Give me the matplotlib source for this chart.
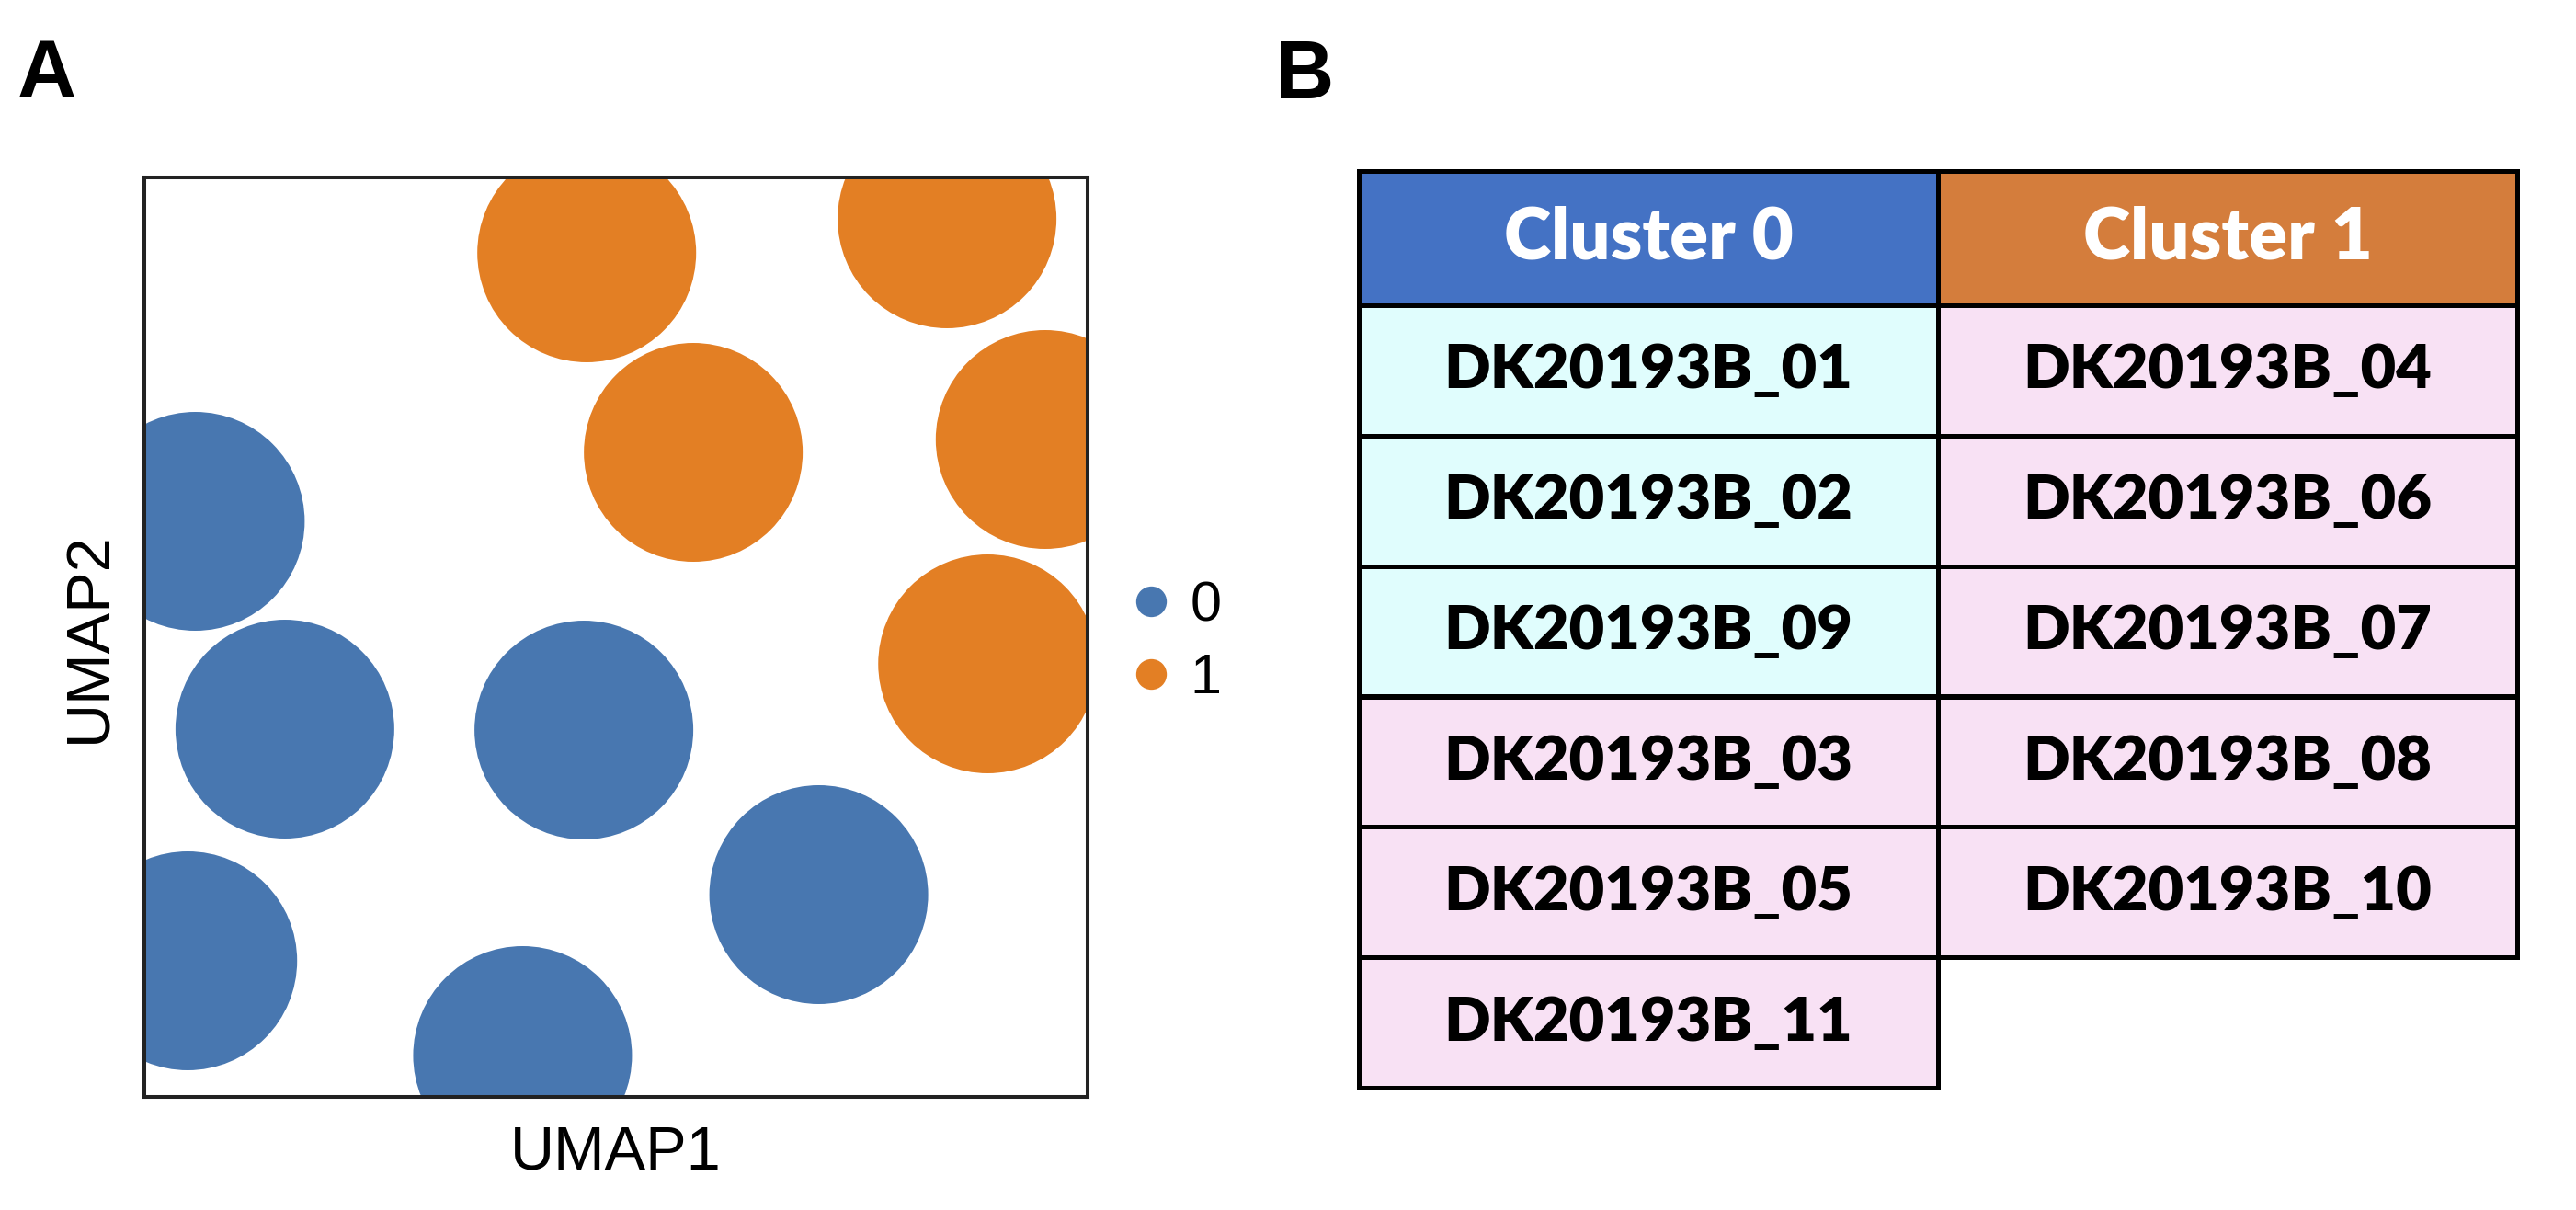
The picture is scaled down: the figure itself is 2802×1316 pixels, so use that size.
import matplotlib
matplotlib.use("Agg")
import matplotlib.pyplot as plt
from matplotlib.lines import Line2D
from matplotlib.patches import Rectangle

W, H, DPI = 2802, 1316, 200

# ── Data ─────────────────────────────────────────────
umap1 = [0.469, 0.851, 0.582, 0.955, 0.894, 0.054, 0.149, 0.466, 0.715, 0.046, 0.401]
umap2 = [0.918, 0.955, 0.701, 0.715, 0.471, 0.626, 0.400, 0.399, 0.220, 0.148, 0.045]
cluster = [1, 1, 1, 1, 1, 0, 0, 0, 0, 0, 0]
cluster_names = ["0", "1"]
cluster_colors = ["#4877b0", "#e37f24"]

headers = ["Cluster 0", "Cluster 1"]
header_colors = ["#4472c4", "#d47d3c"]
cluster0_samples = ["DK20193B_01", "DK20193B_02", "DK20193B_09",
                    "DK20193B_03", "DK20193B_05", "DK20193B_11"]
cluster1_samples = ["DK20193B_04", "DK20193B_06", "DK20193B_07",
                    "DK20193B_08", "DK20193B_10"]
# rows highlighted cyan in cluster 0 column
cluster0_highlight = [True, True, True, False, False, False]
cyan_cell = "#e0fdfd"
pink_cell = "#f8e1f4"

fig = plt.figure(figsize=(W / DPI, H / DPI), dpi=DPI)


def fx(px):
    return px / W


def fy(px):
    return 1 - px / H


# ── Panel A: UMAP scatter ─────────────────────────────
ax = fig.add_axes([fx(157), fy(1193), (1183 - 157) / W, (1193 - 193) / H])
dot_pt = 238 / DPI * 72
ax.scatter(umap1, umap2, s=dot_pt ** 2,
           c=[cluster_colors[c] for c in cluster], linewidths=0)
ax.set_xlim(0, 1)
ax.set_ylim(0, 1)
ax.set_xticks([])
ax.set_yticks([])
for sp in ax.spines.values():
    sp.set_linewidth(1.45)
    sp.set_color("#222222")

ax.set_xlabel("UMAP1", family="Liberation Sans", fontsize=24)
ax.xaxis.label.set_va("baseline")
ax.xaxis.set_label_coords(0.5, -0.079)
ax.set_ylabel("UMAP2", family="Liberation Sans", fontsize=24,
              rotation_mode="anchor")
ax.yaxis.label.set_va("baseline")
ax.yaxis.label.set_ha("center")
ax.yaxis.set_label_coords(-0.041, 0.5)

handles = [Line2D([], [], ls="none", marker="o", markersize=12,
                  markerfacecolor=col, markeredgewidth=0)
           for col in cluster_colors]
ax.legend(handles, cluster_names, loc="center left",
          bbox_to_anchor=(1.0375, 0.494), frameon=False,
          prop={"family": "Liberation Sans", "size": 22},
          borderaxespad=0, borderpad=0, handlelength=1.0,
          handletextpad=0.2, labelspacing=0.36)

fig.text(fx(19), fy(107), "A", family="Liberation Sans", weight="bold",
         fontsize=32, va="baseline", ha="left")
fig.text(fx(1387), fy(107), "B", family="Liberation Sans", weight="bold",
         fontsize=32, va="baseline", ha="left")

# ── Panel B: cluster table ────────────────────────────
tx0, tx1, ty0, ty1 = 1478, 2738, 186, 1183
head_h = (332 - 186) / ((1183 - 332) / 6)  # header height in row units
n_rows = len(cluster0_samples)
tab = fig.add_axes([fx(tx0), fy(ty1), (tx1 - tx0) / W, (ty1 - ty0) / H])
tab.set_xlim(0, 2)
tab.set_ylim(head_h + n_rows, 0)
tab.axis("off")

lw = 5 / DPI * 72
cell_font = dict(family="Lato", weight="heavy", fontsize=24,
                 ha="center", va="center")
head_font = dict(cell_font, fontsize=28)

for j, (name, col) in enumerate(zip(headers, header_colors)):
    tab.add_patch(Rectangle((j, 0), 1, head_h, facecolor=col,
                            edgecolor="black", linewidth=lw, clip_on=False))
    tab.text(j + 0.5, head_h / 2, name, color="white", **head_font)

columns = [cluster0_samples, cluster1_samples]
for j, samples in enumerate(columns):
    for i, s in enumerate(samples):
        if j == 0 and cluster0_highlight[i]:
            face = cyan_cell
        else:
            face = pink_cell
        y = head_h + i
        tab.add_patch(Rectangle((j, y), 1, 1, facecolor=face,
                                edgecolor="black", linewidth=lw, clip_on=False))
        tab.text(j + 0.5, y + 0.5, s, color="black", **cell_font)

fig.savefig("out.png", dpi=DPI, facecolor="white")
